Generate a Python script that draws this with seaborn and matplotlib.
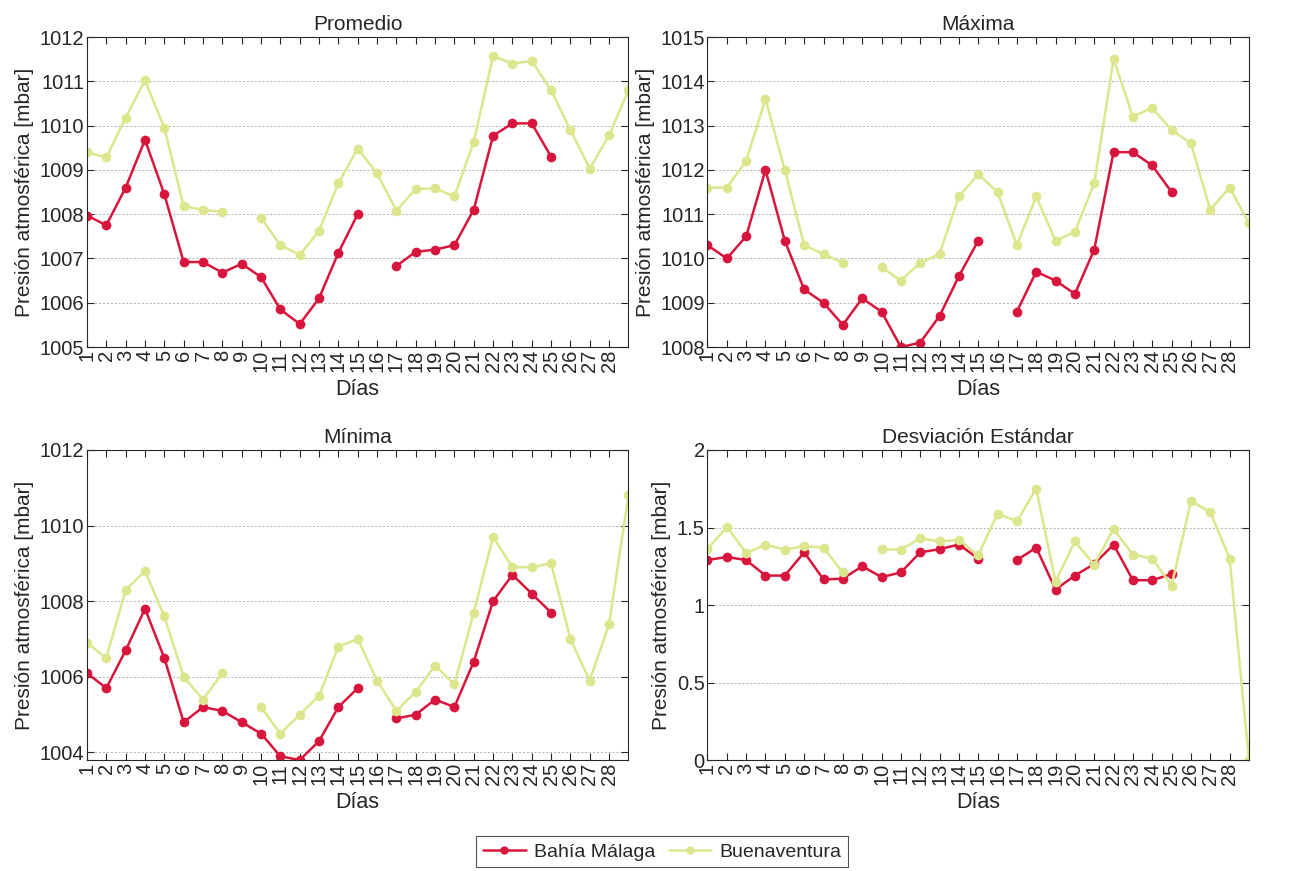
import numpy as np
import pandas as pd
import matplotlib
matplotlib.use("Agg")
import matplotlib.pyplot as plt
import seaborn as sns

nan = np.nan
dias = list(range(1, 30))
estaciones = ["Bahía Málaga", "Buenaventura"]
colores = ["#D8153C", "#DCE68C"]

# ---------------- Datos ----------------
prom_bahia = [1007.97, 1007.75, 1008.6, 1009.68, 1008.45, 1006.92, 1006.92, 1006.68, 1006.88, 1006.58,
              1005.85, 1005.52, 1006.1, 1007.13, 1008.0, nan, 1006.83, 1007.15, 1007.2, 1007.3,
              1008.1, 1009.77, 1010.05, 1010.05, 1009.3, nan, nan, nan, nan]
prom_buena = [1009.4, 1009.28, 1010.18, 1011.02, 1009.95, 1008.18, 1008.1, 1008.05, nan, 1007.92,
              1007.3, 1007.08, 1007.62, 1008.7, 1009.48, 1008.92, 1008.08, 1008.57, 1008.58, 1008.4,
              1009.63, 1011.57, 1011.4, 1011.46, 1010.8, 1009.9, 1009.03, 1009.78, 1010.8]

max_bahia = [1010.3, 1010.0, 1010.5, 1012.0, 1010.4, 1009.3, 1009.0, 1008.5, 1009.1, 1008.8,
             1008.0, 1008.1, 1008.7, 1009.6, 1010.4, nan, 1008.8, 1009.7, 1009.5, 1009.2,
             1010.2, 1012.4, 1012.4, 1012.1, 1011.5, nan, nan, nan, nan]
max_buena = [1011.6, 1011.6, 1012.2, 1013.6, 1012.0, 1010.3, 1010.1, 1009.9, nan, 1009.8,
             1009.5, 1009.9, 1010.1, 1011.4, 1011.9, 1011.5, 1010.3, 1011.4, 1010.4, 1010.6,
             1011.7, 1014.5, 1013.2, 1013.4, 1012.9, 1012.6, 1011.1, 1011.6, 1010.8]

min_bahia = [1006.1, 1005.7, 1006.7, 1007.8, 1006.5, 1004.8, 1005.2, 1005.1, 1004.8, 1004.5,
             1003.9, 1003.8, 1004.3, 1005.2, 1005.7, nan, 1004.9, 1005.0, 1005.4, 1005.2,
             1006.4, 1008.0, 1008.7, 1008.2, 1007.7, nan, nan, nan, nan]
min_buena = [1006.9, 1006.5, 1008.3, 1008.8, 1007.6, 1006.0, 1005.4, 1006.1, nan, 1005.2,
             1004.5, 1005.0, 1005.5, 1006.8, 1007.0, 1005.9, 1005.1, 1005.6, 1006.3, 1005.8,
             1007.7, 1009.7, 1008.9, 1008.9, 1009.0, 1007.0, 1005.9, 1007.4, 1010.8]

std_bahia = [1.29, 1.31, 1.29, 1.19, 1.19, 1.34, 1.165, 1.17, 1.25, 1.18,
             1.21, 1.34, 1.36, 1.39, 1.30, nan, 1.29, 1.37, 1.10, 1.19,
             1.265, 1.39, 1.16, 1.16, 1.20, nan, nan, nan, nan]
std_buena = [1.36, 1.505, 1.335, 1.39, 1.357, 1.38, 1.37, 1.21, nan, 1.36,
             1.357, 1.43, 1.41, 1.42, 1.32, 1.59, 1.54, 1.75, 1.15, 1.41,
             1.26, 1.49, 1.325, 1.30, 1.125, 1.67, 1.60, 1.30, 0.0]

paneles = [
    ("Promedio", prom_bahia, prom_buena, (1005, 1012), [1005, 1006, 1007, 1008, 1009, 1010, 1011, 1012]),
    ("Máxima", max_bahia, max_buena, (1008, 1015), [1008, 1009, 1010, 1011, 1012, 1013, 1014, 1015]),
    ("Mínima", min_bahia, min_buena, (1003.8, 1012), [1004, 1006, 1008, 1010, 1012]),
    ("Desviación Estándar", std_bahia, std_buena, (0, 2), [0, 0.5, 1, 1.5, 2]),
]


def a_largo(bahia, buena):
    # tabla larga; 'tramo' separa los trozos entre huecos (NaN)
    filas = []
    for est, vals in zip(estaciones, [bahia, buena]):
        tramo = 0
        for d, v in zip(dias, vals):
            if np.isnan(v):
                tramo += 1
                continue
            filas.append({"Día": d, "valor": v, "estacion": est, "tramo": tramo})
    return pd.DataFrame(filas)


sns.set_style("ticks")
plt.rcParams["font.family"] = ["Liberation Sans", "DejaVu Sans"]
plt.rcParams["font.size"] = 14

fig, axes = plt.subplots(2, 2, figsize=(13.06, 8.71), dpi=100)
fig.subplots_adjust(left=0.0666, right=0.9563, top=0.9575, bottom=0.1274,
                    wspace=0.146, hspace=0.332)

for ax, (titulo, bahia, buena, ylim, yticks) in zip(axes.flat, paneles):
    df = a_largo(bahia, buena)
    sns.lineplot(data=df, x="Día", y="valor", hue="estacion", units="tramo",
                 estimator=None, hue_order=estaciones, palette=colores,
                 marker="o", markersize=7, markeredgewidth=0, linewidth=1.8,
                 legend=False, ax=ax)
    ax.set_xlim(1, 29)
    ax.set_ylim(*ylim)
    ax.set_xticks(range(1, 29))
    ax.set_xticklabels([str(d) for d in range(1, 29)], rotation=90, fontsize=14.5)
    ax.set_yticks(yticks)
    ax.set_yticklabels([f"{t:g}" for t in yticks], fontsize=14.5)
    ax.yaxis.grid(True, linestyle=(0, (2, 2)), color="#b0b0b0", linewidth=0.7)
    ax.tick_params(direction="in", top=True, right=True, length=5, width=0.8, pad=2)
    for s in ax.spines.values():
        s.set_color("#262626")
        s.set_linewidth(0.8)
    ax.set_title(titulo, fontsize=15, pad=5)
    ax.set_xlabel("Días", fontsize=15.5, labelpad=5)
    ax.set_ylabel("Presión atmosférica [mbar]", fontsize=15, labelpad=4)

handles = [plt.Line2D([], [], color=c, marker="o", markersize=6, markeredgewidth=0, linewidth=1.8)
           for c in colores]
leg = fig.legend(handles, estaciones, loc="center", bbox_to_anchor=(0.507, 0.022),
                 ncol=2, frameon=True, fancybox=False, fontsize=14,
                 handlelength=2.2, columnspacing=0.7, handletextpad=0.4, borderpad=0.35)
leg.get_frame().set_edgecolor("#262626")
leg.get_frame().set_linewidth(0.8)

fig.savefig("out.png", dpi=100)
